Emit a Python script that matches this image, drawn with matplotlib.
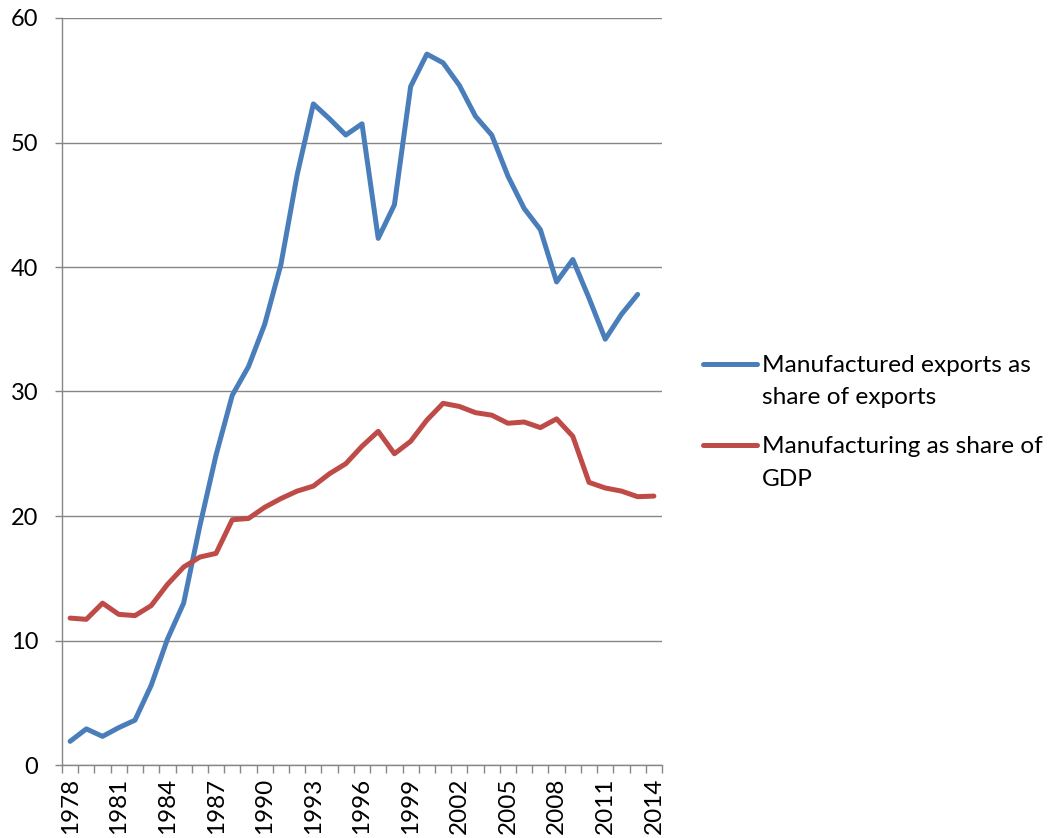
import matplotlib
matplotlib.use("Agg")
import matplotlib.pyplot as plt
from matplotlib.lines import Line2D
import numpy as np

years = list(range(1978, 2015))
manuf_exports_share = [1.9, 2.9, 2.3, 3.0, 3.6, 6.4, 10.1, 13.0, 19.2, 24.9, 29.7, 32.0,
                       35.4, 40.2, 47.4, 53.1, 51.9, 50.6, 51.5, 42.3, 45.0, 54.5, 57.1,
                       56.4, 54.6, 52.1, 50.6, 47.3, 44.7, 43.0, 38.8, 40.6, 37.5, 34.2,
                       36.2, 37.8, np.nan]
manuf_gdp_share = [11.8, 11.7, 13.0, 12.1, 12.0, 12.8, 14.5, 15.9, 16.7, 17.0, 19.7, 19.8,
                   20.7, 21.4, 22.0, 22.4, 23.4, 24.2, 25.6, 26.8, 25.0, 26.0, 27.7, 29.05,
                   28.8, 28.3, 28.1, 27.45, 27.55, 27.1, 27.8, 26.4, 22.7, 22.25, 22.0,
                   21.55, 21.6]
labels = [["Manufactured exports as", "share of exports"], ["Manufacturing as share of", "GDP"]]
colors = ["#4A7EBB", "#BE4B48"]
yticks = [0, 10, 20, 30, 40, 50, 60]

plt.rcParams['font.family'] = ['Lato', 'DejaVu Sans']
W, H = 1050, 838
fig = plt.figure(figsize=(W / 100, H / 100), dpi=100)
ax = fig.add_axes([62 / W, 1 - 765 / H, 600 / W, 747 / H])

x = np.arange(len(years))
ax.plot(x, manuf_exports_share, color=colors[0], lw=3.6, solid_capstyle='round', solid_joinstyle='round', zorder=3)
ax.plot(x, manuf_gdp_share, color=colors[1], lw=3.6, solid_capstyle='round', solid_joinstyle='round', zorder=3)

ax.set_xlim(-0.5, len(years) - 0.5)
ax.set_ylim(0, 60)
grid_c = "#868686"
ax.set_yticks(yticks)
ax.set_yticklabels([str(v) for v in yticks])
ax.yaxis.grid(True, color=grid_c, lw=1.0)
ax.set_axisbelow(True)
ax.tick_params(axis='y', direction='out', length=5, width=1.0, color=grid_c, pad=12, labelsize=17)

ax.set_xticks(np.arange(-0.5, len(years), 1.0))
ax.set_xticklabels([])
ax.set_xticks(x[::3], minor=True)
ax.set_xticklabels([str(years[i]) for i in x[::3]], minor=True, rotation=90)
ax.tick_params(axis='x', which='major', direction='out', length=6, width=1.0, color=grid_c)
ax.tick_params(axis='x', which='minor', length=0, pad=9, labelsize=17.5)

for s in ['top', 'right']:
    ax.spines[s].set_visible(False)
for s in ['left', 'bottom']:
    ax.spines[s].set_color(grid_c)
    ax.spines[s].set_linewidth(1.0)

# legend drawn manually (handle aligned with first text line, as in the reference)
handle_y = [364, 445]
baselines = [(372, 404), (453, 486)]
for lines, c, yy, bl in zip(labels, colors, handle_y, baselines):
    fy = 1 - yy / H
    fig.add_artist(Line2D([703 / W, 757 / W], [fy, fy], color=c, lw=3.6, solid_capstyle='round'))
    for txt, b in zip(lines, bl):
        fig.text(762 / W, 1 - b / H, txt, fontsize=17.6, va='baseline', ha='left')

fig.savefig("out.png", dpi=100)
